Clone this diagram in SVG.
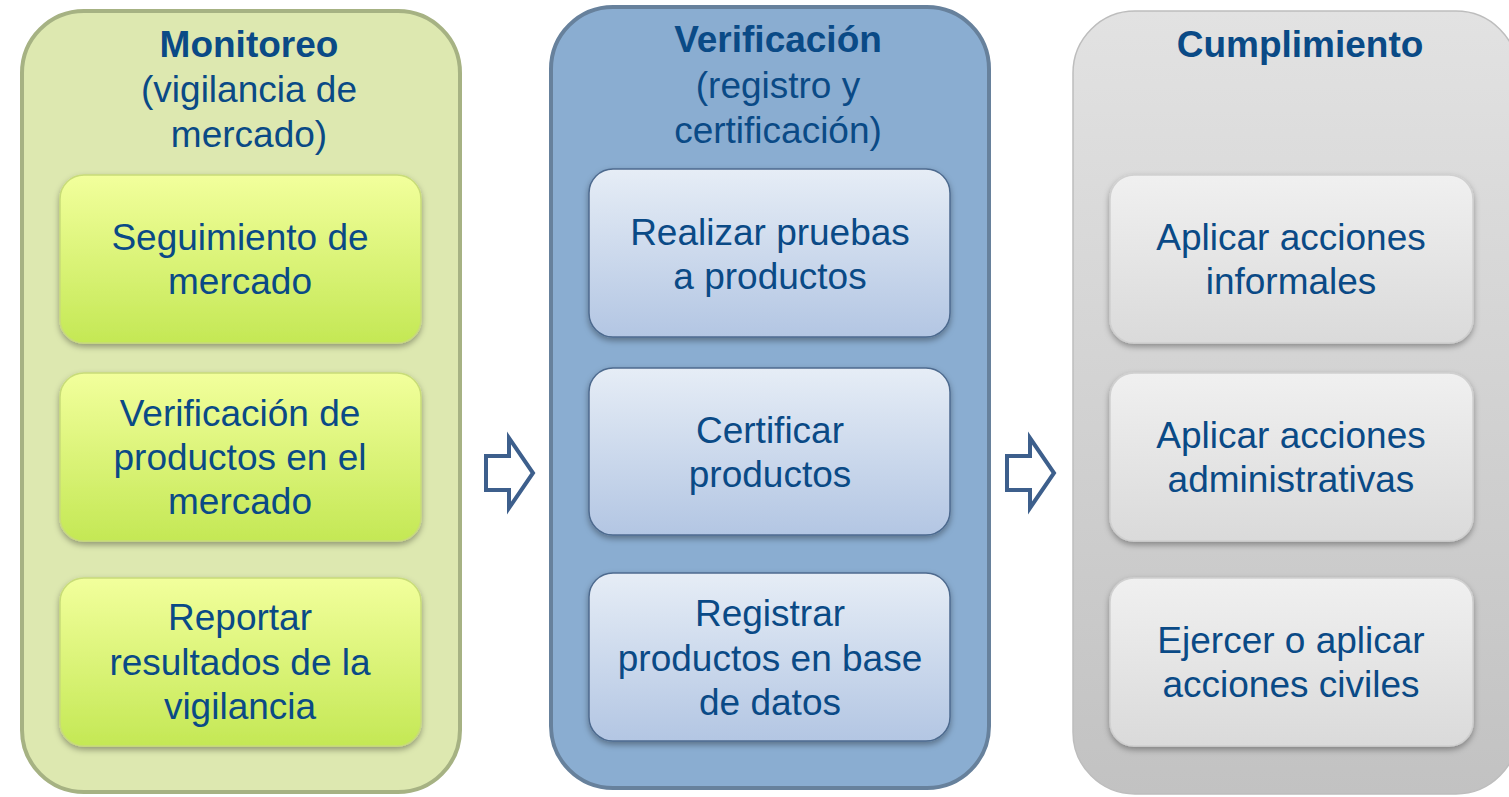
<svg xmlns="http://www.w3.org/2000/svg" width="1509" height="797" viewBox="0 0 1509 797">
<defs>
<linearGradient id="gGreen" x1="0" y1="0" x2="0" y2="1"><stop offset="0" stop-color="#f2ff9c"/><stop offset="1" stop-color="#c4e855"/></linearGradient>
<linearGradient id="gBlue" x1="0" y1="0" x2="0" y2="1"><stop offset="0" stop-color="#e6edf6"/><stop offset="1" stop-color="#b3c6e3"/></linearGradient>
<linearGradient id="gGray" x1="0" y1="0" x2="0" y2="1"><stop offset="0" stop-color="#f0f0f0"/><stop offset="1" stop-color="#dadada"/></linearGradient>
<linearGradient id="gGrayOuter" x1="0" y1="0" x2="0" y2="1"><stop offset="0" stop-color="#e2e2e2"/><stop offset="1" stop-color="#c2c2c2"/></linearGradient>
<filter id="sh" x="-10%" y="-10%" width="120%" height="130%"><feDropShadow dx="0" dy="3" stdDeviation="3" flood-color="#000" flood-opacity="0.35"/></filter>
</defs>
<style>
text{font-family:"Liberation Sans",Arial,sans-serif;font-size:37px;fill:#0a4a86;text-anchor:middle}
.b{font-weight:bold}
.gi{fill:url(#gGreen);stroke:#c8dc78;stroke-width:1.5}
.bi{fill:url(#gBlue);stroke:#4d6a8e;stroke-width:1.5}
.ri{fill:url(#gGray);stroke:#d0d0d0;stroke-width:1.5}
.arrow{fill:#ffffff;stroke:#3d5f8c;stroke-width:4;stroke-linejoin:miter}
</style>
<rect width="1509" height="797" fill="#ffffff"/>
<g id="monitoreo">
<rect x="22" y="11" width="438" height="781" rx="62" fill="#dde8b0" stroke="#a6b283" stroke-width="4"/>
<text class="b" x="249" y="57">Monitoreo</text>
<text x="249" y="102">(vigilancia de</text>
<text x="249" y="147">mercado)</text>
</g>
<g id="seguimiento">
<rect class="gi" x="60" y="175" width="361" height="168" rx="24" filter="url(#sh)"/>
<text x="240" y="250">Seguimiento de</text>
<text x="240" y="294">mercado</text>
</g>
<g id="verificacion-productos">
<rect class="gi" x="60" y="373" width="361" height="168" rx="24" filter="url(#sh)"/>
<text x="240" y="426">Verificación de</text>
<text x="240" y="470">productos en el</text>
<text x="240" y="514">mercado</text>
</g>
<g id="reportar">
<rect class="gi" x="60" y="578" width="361" height="168" rx="24" filter="url(#sh)"/>
<text x="240" y="630">Reportar</text>
<text x="240" y="675">resultados de la</text>
<text x="240" y="719">vigilancia</text>
</g>
<g id="verificacion">
<rect x="551" y="7" width="438" height="781" rx="62" fill="#8aadd1" stroke="#67819c" stroke-width="4"/>
<text class="b" x="778" y="52">Verificación</text>
<text x="778" y="98">(registro y</text>
<text x="778" y="143">certificación)</text>
</g>
<g id="pruebas">
<rect class="bi" x="589" y="169" width="361" height="168" rx="24" filter="url(#sh)"/>
<text x="770" y="245">Realizar pruebas</text>
<text x="770" y="289">a productos</text>
</g>
<g id="certificar">
<rect class="bi" x="589" y="368" width="361" height="167" rx="24" filter="url(#sh)"/>
<text x="770" y="443">Certificar</text>
<text x="770" y="487">productos</text>
</g>
<g id="registrar">
<rect class="bi" x="589" y="573" width="361" height="168" rx="24" filter="url(#sh)"/>
<text x="770" y="626">Registrar</text>
<text x="770" y="671">productos en base</text>
<text x="770" y="715">de datos</text>
</g>
<g id="cumplimiento">
<rect x="1073" y="11" width="445" height="783" rx="62" fill="url(#gGrayOuter)" stroke="#bdbdbd" stroke-width="1.5"/>
<text class="b" x="1300" y="57">Cumplimiento</text>
</g>
<g id="informales">
<rect class="ri" x="1110" y="175" width="363" height="168" rx="24" filter="url(#sh)"/>
<text x="1291" y="250">Aplicar acciones</text>
<text x="1291" y="294">informales</text>
</g>
<g id="administrativas">
<rect class="ri" x="1110" y="373" width="363" height="168" rx="24" filter="url(#sh)"/>
<text x="1291" y="448">Aplicar acciones</text>
<text x="1291" y="492">administrativas</text>
</g>
<g id="civiles">
<rect class="ri" x="1110" y="578" width="363" height="168" rx="24" filter="url(#sh)"/>
<text x="1291" y="653">Ejercer o aplicar</text>
<text x="1291" y="697">acciones civiles</text>
</g>
<g id="connectors">
<path class="arrow" d="M486,456 L509,456 L509,438 L533,473 L509,508 L509,490 L486,490 Z"/>
<path class="arrow" d="M1007,456 L1030,456 L1030,438 L1054,473 L1030,508 L1030,490 L1007,490 Z"/>
</g>
</svg>
